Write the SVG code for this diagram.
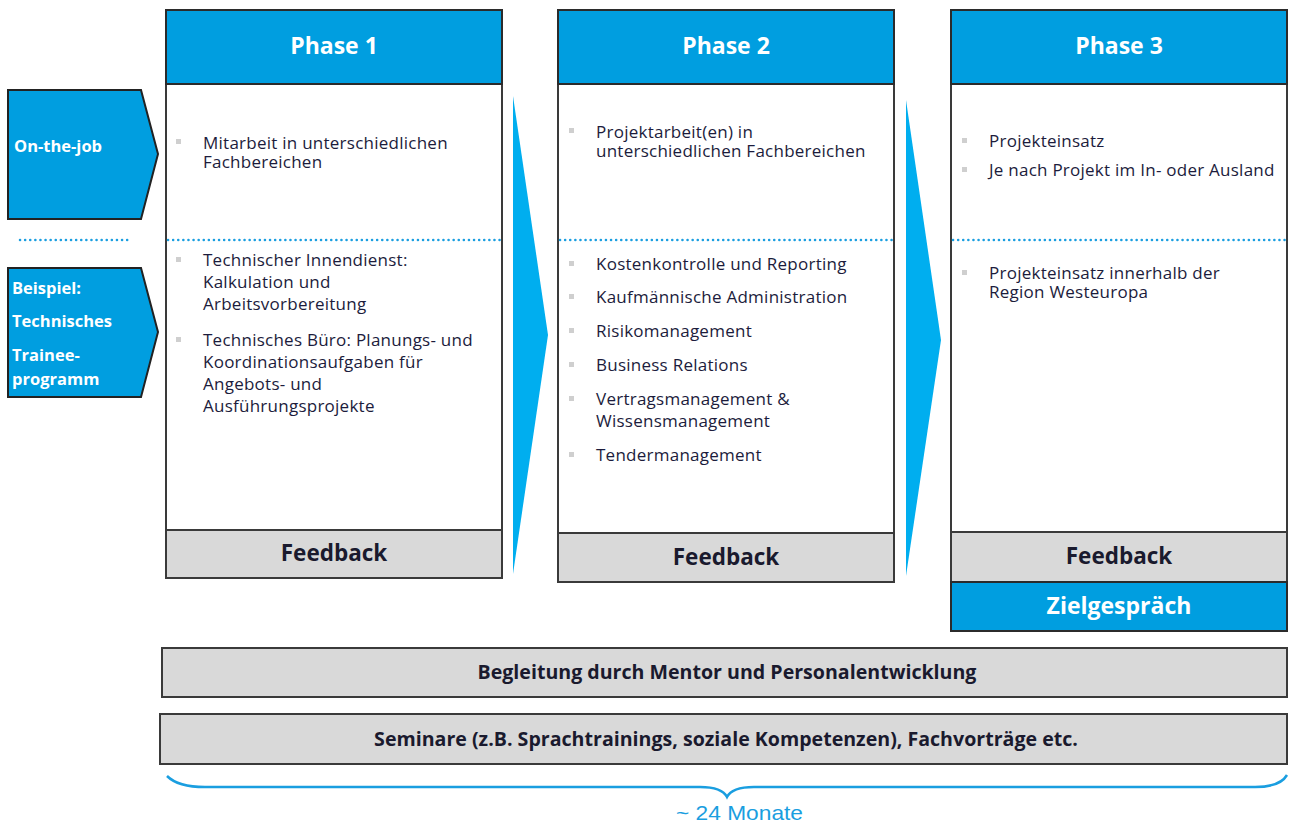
<svg xmlns="http://www.w3.org/2000/svg" width="1289" height="826" viewBox="0 0 1289 826">
<defs>
<style>
.hdr{fill:#009ee0;stroke:#2b2b2b;stroke-width:2}
.body{fill:#ffffff;stroke:#3a3a3a;stroke-width:2}
.gray{fill:#d9d9d9;stroke:#3a3a3a;stroke-width:2}
.htxt{font-family:"Open Sans","Noto Sans",sans-serif;font-weight:bold;font-size:23px;fill:#ffffff;text-anchor:middle}
.fb{font-family:"Open Sans","Noto Sans",sans-serif;font-weight:bold;font-size:22.5px;fill:#1a1a2e;text-anchor:middle}
.bar{font-family:"Open Sans","Noto Sans",sans-serif;font-weight:bold;font-size:19.6px;fill:#1a1a2e;text-anchor:middle}
.t{font-family:"Open Sans","Noto Sans",sans-serif;font-size:17px;letter-spacing:0.25px;fill:#1c1c3c}
.lt{font-family:"Open Sans","Noto Sans",sans-serif;font-weight:bold;font-size:16.5px;fill:#ffffff}
.dot{stroke:#1a9ee0;stroke-width:2.5;stroke-dasharray:0.1 5;stroke-linecap:round;fill:none}
.bul{fill:#cfcfcf}
.arr{fill:#00aeef}
.pent{fill:#009ee0;stroke:#222;stroke-width:2}
</style>
</defs>

<g id="side-onthejob">
<polygon class="pent" points="8,90 141,90 158,154 141,219 8,219"/>
<text class="lt" x="14" y="152">On-the-job</text>
</g>
<line class="dot" x1="20" y1="240" x2="128" y2="240"/>
<g id="side-beispiel">
<polygon class="pent" points="8,268 141,268 158,332 141,397 8,397"/>
<text class="lt" x="12" y="294">Beispiel:</text>
<text class="lt" x="12" y="327">Technisches</text>
<text class="lt" x="12" y="361">Trainee-</text>
<text class="lt" x="12" y="385">programm</text>
</g>

<g id="connectors">
<polygon class="arr" points="513,96 548,335 513,574"/>
<polygon class="arr" points="906,100 941,340 906,576"/>
</g>

<g id="phase1">
<rect class="body" x="166" y="84" width="336" height="446"/>
<rect class="hdr" x="166" y="10" width="336" height="74"/>
<text class="htxt" x="334" y="54">Phase 1</text>
<line class="dot" x1="168" y1="240" x2="500" y2="240"/>
<rect class="bul" x="176" y="139" width="5" height="5"/>
<text class="t" x="203" y="149">Mitarbeit in unterschiedlichen</text>
<text class="t" x="203" y="168">Fachbereichen</text>
<rect class="bul" x="176" y="257" width="5" height="5"/>
<text class="t" x="203" y="266">Technischer Innendienst:</text>
<text class="t" x="203" y="288">Kalkulation und</text>
<text class="t" x="203" y="310">Arbeitsvorbereitung</text>
<rect class="bul" x="176" y="337" width="5" height="5"/>
<text class="t" x="203" y="346">Technisches Büro: Planungs- und</text>
<text class="t" x="203" y="368">Koordinationsaufgaben für</text>
<text class="t" x="203" y="390">Angebots- und</text>
<text class="t" x="203" y="412">Ausführungsprojekte</text>
<rect class="gray" x="166" y="530" width="336" height="48"/>
<text class="fb" x="334" y="561">Feedback</text>
</g>

<g id="phase2">
<rect class="body" x="558" y="84" width="336" height="449"/>
<rect class="hdr" x="558" y="10" width="336" height="74"/>
<text class="htxt" x="726" y="54">Phase 2</text>
<line class="dot" x1="560" y1="240" x2="892" y2="240"/>
<rect class="bul" x="569" y="128" width="5" height="5"/>
<text class="t" x="596" y="138">Projektarbeit(en) in</text>
<text class="t" x="596" y="157">unterschiedlichen Fachbereichen</text>
<rect class="bul" x="569" y="261" width="5" height="5"/>
<text class="t" x="596" y="270">Kostenkontrolle und Reporting</text>
<rect class="bul" x="569" y="294" width="5" height="5"/>
<text class="t" x="596" y="303">Kaufmännische Administration</text>
<rect class="bul" x="569" y="328" width="5" height="5"/>
<text class="t" x="596" y="337">Risikomanagement</text>
<rect class="bul" x="569" y="362" width="5" height="5"/>
<text class="t" x="596" y="371">Business Relations</text>
<rect class="bul" x="569" y="396" width="5" height="5"/>
<text class="t" x="596" y="405">Vertragsmanagement &amp;</text>
<text class="t" x="596" y="427">Wissensmanagement</text>
<rect class="bul" x="569" y="452" width="5" height="5"/>
<text class="t" x="596" y="461">Tendermanagement</text>
<rect class="gray" x="558" y="533" width="336" height="49"/>
<text class="fb" x="726" y="565">Feedback</text>
</g>

<g id="phase3">
<rect class="body" x="951" y="84" width="336" height="448"/>
<rect class="hdr" x="951" y="10" width="336" height="74"/>
<text class="htxt" x="1119" y="54">Phase 3</text>
<line class="dot" x1="953" y1="240" x2="1285" y2="240"/>
<rect class="bul" x="962" y="138" width="5" height="5"/>
<text class="t" x="989" y="147">Projekteinsatz</text>
<rect class="bul" x="962" y="167" width="5" height="5"/>
<text class="t" x="989" y="176">Je nach Projekt im In- oder Ausland</text>
<rect class="bul" x="962" y="270" width="5" height="5"/>
<text class="t" x="989" y="279">Projekteinsatz innerhalb der</text>
<text class="t" x="989" y="298">Region Westeuropa</text>
<rect class="gray" x="951" y="532" width="336" height="50"/>
<text class="fb" x="1119" y="564">Feedback</text>
<rect class="hdr" x="951" y="582" width="336" height="49"/>
<text class="htxt" x="1119" y="614">Zielgespräch</text>
</g>

<g id="bar-mentor">
<rect class="gray" x="162" y="648" width="1125" height="49"/>
<text class="bar" x="727" y="679">Begleitung durch Mentor und Personalentwicklung</text>
</g>
<g id="bar-seminare">
<rect class="gray" x="160" y="714" width="1127" height="50"/>
<text class="bar" x="726" y="746">Seminare (z.B. Sprachtrainings, soziale Kompetenzen), Fachvorträge etc.</text>
</g>

<g id="brace">
<path d="M167,776 Q178,787 205,787 L700,787 Q722,787 727,797 Q732,787 754,787 L1255,787 Q1280,787 1287,775" fill="none" stroke="#1a9ee0" stroke-width="2.5"/>
<text x="676" y="820" font-family="Liberation Sans, Arial, sans-serif" font-size="21" fill="#1a9ee0" textLength="127" lengthAdjust="spacingAndGlyphs">~ 24 Monate</text>
</g>
</svg>
